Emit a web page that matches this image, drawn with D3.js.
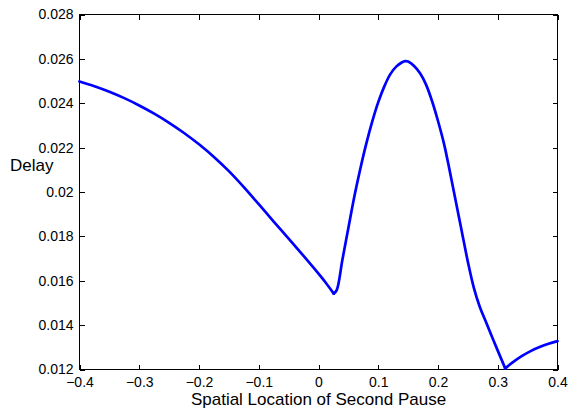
<!DOCTYPE html>
<head>
  <meta charset="utf-8">
  <script src="https://cdnjs.cloudflare.com/ajax/libs/d3/7.8.5/d3.min.js"></script>
</head>

<style>

body {
  margin: 0;
  background-color: #fff;
}

svg text {
  font-family: "Liberation Sans", Arial, sans-serif;
  fill: #000;
}

.axis path, .axis line {
  stroke: #000;
  shape-rendering: crispEdges;
}

</style>

<body>
  <svg id='chart' width='568' height='409'></svg>
</body>

<script>

// location of the second pause
var pause_x = [-0.4, -0.375, -0.35, -0.325, -0.3, -0.275, -0.25, -0.225, -0.2, -0.175,
  -0.15, -0.125, -0.1, -0.075, -0.05, -0.025, 0, 0.0125, 0.0255,
  0.0305, 0.04, 0.05, 0.06, 0.07, 0.08, 0.09, 0.1, 0.11, 0.12,
  0.13, 0.14, 0.145, 0.15, 0.16, 0.17, 0.18, 0.19, 0.2, 0.21,
  0.22, 0.23, 0.24, 0.25, 0.26, 0.27, 0.28, 0.29, 0.3, 0.3125,
  0.325, 0.34, 0.355, 0.37, 0.385, 0.4];

// delay
var delay = [0.02498, 0.02477, 0.02452, 0.02423, 0.0239, 0.02353, 0.02312, 0.02266, 0.02215, 0.02158,
  0.02094, 0.02022, 0.01945, 0.01867, 0.0179, 0.01712, 0.01632, 0.0159, 0.01542,
  0.01558, 0.01695, 0.01838, 0.0198, 0.02105, 0.02218, 0.02318, 0.02405, 0.02475, 0.0253,
  0.02565, 0.02585, 0.0259, 0.02588, 0.02568, 0.02535, 0.02484, 0.0241, 0.0232, 0.02218,
  0.0209, 0.01955, 0.0182, 0.01685, 0.01568, 0.01482, 0.01416, 0.0135, 0.01285, 0.01205,
  0.01232, 0.0126, 0.01283, 0.01301, 0.01316, 0.01328];

// the curve has corners at these two minima
var corner_x = [0.0255, 0.3125];

var x_ticks = [-0.4, -0.3, -0.2, -0.1, 0, 0.1, 0.2, 0.3, 0.4];
var y_ticks = [0.012, 0.014, 0.016, 0.018, 0.02, 0.022, 0.024, 0.026, 0.028];

var ax_left = 79.5, ax_right = 557.5, ax_top = 14.5, ax_bottom = 369.5;
var tick_len = 5;

var svg = d3.select('#chart');

var x = d3.scaleLinear().domain([-0.4, 0.4]).range([ax_left, ax_right]);
var y = d3.scaleLinear().domain([0.012, 0.028]).range([ax_bottom, ax_top]);

var fmt_x = function(d) { return d === 0 ? '0' : d3.format('.1f')(d).replace('-', '\u2212'); };
var fmt_y = function(d) { return String(+d.toFixed(3)); };

// box
svg.append('rect')
  .attr('x', ax_left).attr('y', ax_top)
  .attr('width', ax_right - ax_left).attr('height', ax_bottom - ax_top)
  .attr('fill', 'none').attr('stroke', '#000')
  .style('shape-rendering', 'crispEdges');

svg.append('g').attr('class', 'axis').attr('transform', 'translate(0,' + ax_bottom + ')')
  .call(d3.axisBottom(x).tickValues(x_ticks).tickSizeInner(-tick_len).tickSizeOuter(0).tickPadding(8).tickFormat(fmt_x));
svg.append('g').attr('class', 'axis').attr('transform', 'translate(0,' + ax_top + ')')
  .call(d3.axisTop(x).tickValues(x_ticks).tickSizeInner(-tick_len).tickSizeOuter(0).tickFormat(''));
svg.append('g').attr('class', 'axis').attr('transform', 'translate(' + ax_left + ',0)')
  .call(d3.axisLeft(y).tickValues(y_ticks).tickSizeInner(-tick_len).tickSizeOuter(0).tickPadding(6).tickFormat(fmt_y));
svg.append('g').attr('class', 'axis').attr('transform', 'translate(' + ax_right + ',0)')
  .call(d3.axisRight(y).tickValues(y_ticks).tickSizeInner(-tick_len).tickSizeOuter(0).tickFormat(''));

svg.selectAll('.axis .domain').remove();
svg.selectAll('.axis text').style('font-size', '14px').style('font-family', '"Liberation Sans", Arial, sans-serif');

// curve, drawn smooth between the corners
var pts = pause_x.map(function(px, i) { return [px, delay[i]]; });
var cuts = [-Infinity].concat(corner_x, [Infinity]);
var pieces = d3.range(cuts.length - 1).map(function(k) {
  return pts.filter(function(p) { return p[0] >= cuts[k] && p[0] <= cuts[k + 1]; });
});

var line = d3.line()
  .curve(d3.curveCatmullRom.alpha(0.5))
  .x(function(d) { return x(d[0]); })
  .y(function(d) { return y(d[1]); });

svg.selectAll('path.delay')
  .data(pieces)
  .enter().append('path')
  .attr('class', 'delay')
  .attr('d', line)
  .attr('fill', 'none')
  .attr('stroke', '#0000ff')
  .attr('stroke-width', 2.7)
  .attr('stroke-linejoin', 'round')
  .attr('stroke-linecap', 'round');

// labels
svg.append('text')
  .attr('x', (ax_left + ax_right) / 2)
  .attr('y', 405)
  .attr('text-anchor', 'middle')
  .style('font-size', '17px')
  .text('Spatial Location of Second Pause');

svg.append('text')
  .attr('x', 10)
  .attr('y', 171)
  .style('font-size', '17px')
  .text('Delay');

</script>
